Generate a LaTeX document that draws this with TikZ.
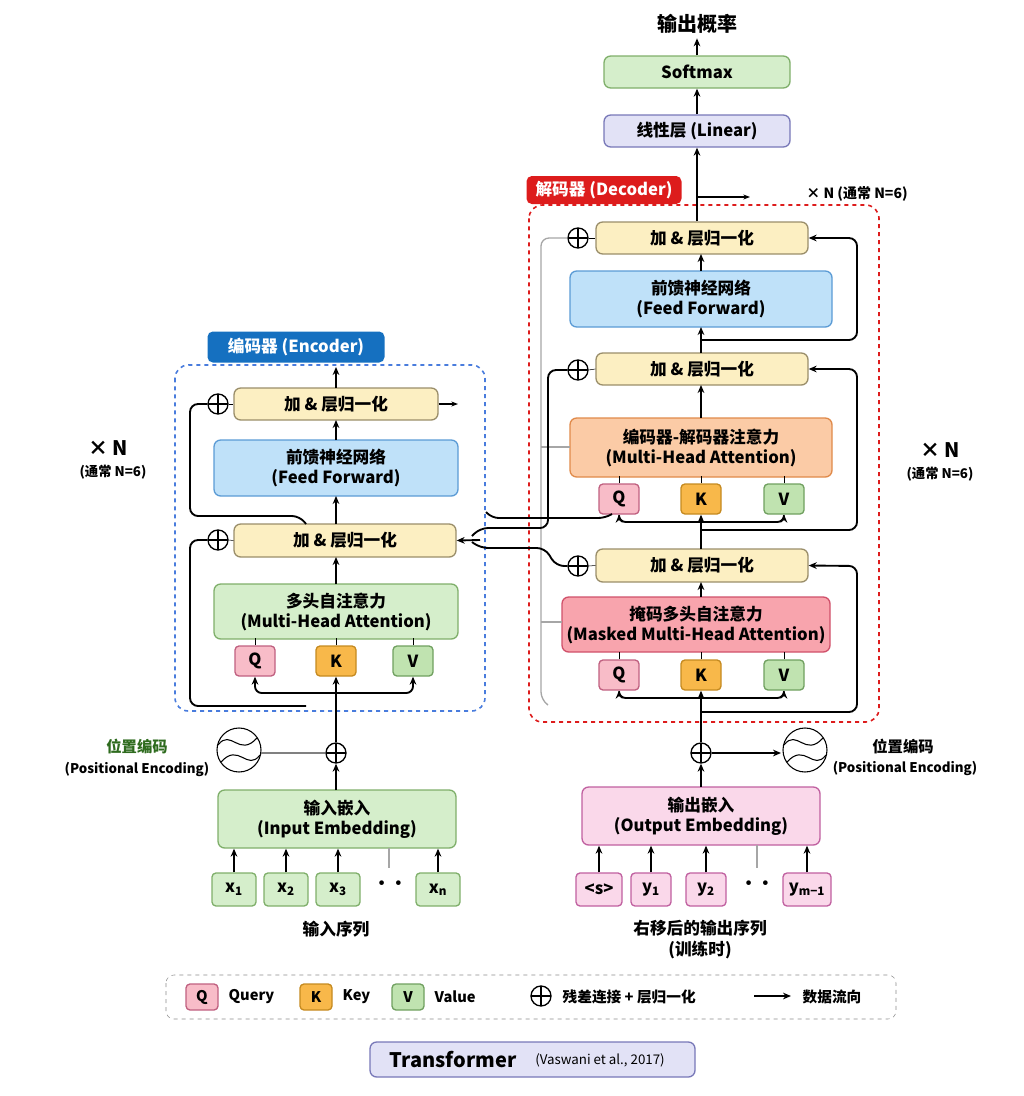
\documentclass[tikz,border=0pt]{standalone}
\usepackage{fontspec}
\setmainfont{Noto Sans CJK SC}
\usetikzlibrary{arrows.meta,calc}
\definecolor{ynf}{HTML}{FCEFC2}\definecolor{ynd}{HTML}{9A8E6A}
\definecolor{blf}{HTML}{BFE1F9}\definecolor{bld}{HTML}{5B9BD5}
\definecolor{grf}{HTML}{D5EECB}\definecolor{grd}{HTML}{7FAF6A}
\definecolor{orf}{HTML}{FBCBA6}\definecolor{ord}{HTML}{E08A4A}
\definecolor{rdf}{HTML}{F8A4AD}\definecolor{rdd}{HTML}{D0506A}
\definecolor{qf}{HTML}{F8BCC8}\definecolor{qd}{HTML}{C06080}
\definecolor{kf}{HTML}{F8B84A}\definecolor{kd}{HTML}{C58A20}
\definecolor{vf}{HTML}{C0E3B0}\definecolor{vd}{HTML}{70A060}
\definecolor{pkf}{HTML}{FAD8EA}\definecolor{pkd}{HTML}{C060A0}
\definecolor{lvf}{HTML}{E2E2F6}\definecolor{lvd}{HTML}{7878B8}
\definecolor{encb}{HTML}{1570C0}\definecolor{decr}{HTML}{DD1C1C}
\definecolor{pegr}{HTML}{2E6B1E}
\newcommand\bx[7]{\node[#6, minimum width={(#4-#2)*0.75pt}, minimum height={(#5-#3)*0.75pt}] (#1) at ({(#2+#4)/2},{(#3+#5)/2}) {#7};}
\newcommand\pe[1]{\draw[thick] (#1) circle (22);
 \draw[thick] ($(#1)+(-21,-5)$) .. controls ($(#1)+(-8,-22)$) and ($(#1)+(0,8)$) .. ($(#1)+(18,-12)$);
 \draw[thick] ($(#1)+(-18,12)$) .. controls ($(#1)+(0,-8)$) and ($(#1)+(8,22)$) .. ($(#1)+(21,5)$);}
\begin{document}
\begin{tikzpicture}[x=0.75pt,y=-0.75pt,
 font=\bfseries\fontsize{12.5}{15}\selectfont,
 base/.style={draw, rounded corners=5pt, line width=1pt, inner sep=0pt, align=center},
 an/.style={base, fill=ynf, draw=ynd},
 ff/.style={base, fill=blf, draw=bld},
 mha/.style={base, fill=grf, draw=grd},
 eda/.style={base, fill=orf, draw=ord},
 msk/.style={base, fill=rdf, draw=rdd},
 q/.style={base, fill=qf, draw=qd, rounded corners=3pt},
 k/.style={base, fill=kf, draw=kd, rounded corners=3pt},
 v/.style={base, fill=vf, draw=vd, rounded corners=3pt},
 emb/.style={base, fill=grf, draw=grd},
 oemb/.style={base, fill=pkf, draw=pkd},
 tok/.style={base, fill=grf, draw=grd, rounded corners=3pt},
 otok/.style={base, fill=pkf, draw=pkd, rounded corners=3pt},
 lin/.style={base, fill=lvf, draw=lvd},
 op/.style={circle, draw, line width=1pt, minimum size=15pt, inner sep=0pt,
   path picture={\draw[line width=1pt] (path picture bounding box.north)--(path picture bounding box.south) (path picture bounding box.west)--(path picture bounding box.east);}},
 arr/.style={line width=1.4pt, -{Stealth[length=6pt,width=5pt]}},
 ln/.style={line width=1.4pt},
 gl/.style={line width=1pt, draw=black!35},
 small/.style={font=\bfseries\fontsize{10}{12}\selectfont}]
\useasboundingbox (0,0) rectangle (1024,1096);
% ===== top
\node[font=\bfseries\fontsize{15}{18}\selectfont] (prob) at (697,24) {输出概率};
\bx{sm}{604}{56}{790}{88}{mha}{Softmax}
\bx{lin}{604}{115}{790}{147}{lin}{线性层 (Linear)}
\draw[arr] (sm.north) -- (prob.south);
\draw[arr] (lin.north) -- (sm.south);
% ===== decoder frame
\draw[decr, dashed, line width=1.2pt, rounded corners=10pt] (529,205) rectangle (879,722);
\node[fill=decr, text=white, rounded corners=4pt, minimum width=155*0.75pt, minimum height=28*0.75pt, inner sep=0pt] (declab) at (604,190) {解码器 (Decoder)};
\node[font=\bfseries\fontsize{10.5}{12}\selectfont] (xnd) at (857,194) {× N (通常 N=6)};
\coordinate (dtap) at (697,197);
\draw[ln, -{Stealth[length=5pt]}] (dtap) -- (750,197);
\bx{an3}{596}{222}{808}{254}{an}{加 \& 层归一化}
\bx{dff}{570}{271}{832}{327}{ff}{前馈神经网络\\(Feed Forward)}
\bx{an2}{596}{353}{808}{385}{an}{加 \& 层归一化}
\bx{eda}{570}{418}{832}{477}{eda}{编码器-解码器注意力\\(Multi-Head Attention)}
\bx{q2}{599}{484}{639}{514}{q}{Q}
\bx{k2}{681}{484}{721}{514}{k}{K}
\bx{v2}{764}{484}{804}{514}{v}{V}
\bx{an1}{596}{549}{808}{582}{an}{加 \& 层归一化}
\bx{msk}{562}{597}{830}{652}{msk}{掩码多头自注意力\\(Masked Multi-Head Attention)}
\bx{q1}{599}{660}{639}{690}{q}{Q}
\bx{k1}{681}{660}{721}{690}{k}{K}
\bx{v1}{764}{660}{804}{690}{v}{V}
\node[op] (dp3) at (578,238) {};
\node[op] (dp2) at (578,370) {};
\node[op] (dp1) at (578,566) {};
\draw (dp3.east) -- (an3.west); \draw (dp2.east) -- (an2.west); \draw (dp1.east) -- (an1.west);
\draw[arr] (an3.north -| lin.south) -- (lin.south);
\draw[arr] (701,271) -- (701,254);
\draw[arr] (701,353) -- (701,327);
\draw[arr] (701,418) -- (701,385);
\draw[arr] (701,597) -- (701,582);
\draw (q2.north) -- ++(0,-7); \draw (k2.north) -- ++(0,-7); \draw (v2.north) -- ++(0,-7);
\draw (q1.north) -- ++(0,-7); \draw (k1.north) -- ++(0,-7); \draw (v1.north) -- ++(0,-7);
% residuals right
\draw[arr, rounded corners=6pt] (701,340) -- (857,340) -- (857,238) -- (an3.east);
\draw[arr, rounded corners=6pt] (701,530) -- (857,530) -- (857,369) -- (an2.east);
\draw[arr, rounded corners=6pt] (701,712) -- (857,712) -- (857,566) -- (an1.east);
% decoder attention inputs
\draw[arr] (701,549) -- (k2.south);
\draw[arr, rounded corners=5pt] (701,522) -| (v2.south);
\draw[arr, rounded corners=5pt] (701,522) -| (q2.south);
% gray lines
\draw[gl, rounded corners=6pt] (dp3.west) -- (541,238) -- (541,700) -- (548,705);
\draw[gl] (541,447) -- (570,447);
\draw[gl] (541,622) -- (562,622);
% ===== decoder bottom
\node[op] (dplus) at (701,753) {};
\draw[arr] (dplus.north) -- (k1.south);
\draw[arr, rounded corners=5pt] (701,698) -| (q1.south);
\draw[arr, rounded corners=5pt] (701,698) -| (v1.south);
\coordinate (dpe) at (805,750);
\pe{dpe}
\draw[arr] (dplus.east) -- (781,753);
\node[font=\bfseries\fontsize{11.5}{13}\selectfont] at (903,747) {位置编码};
\node[small] at (905,768) {(Positional Encoding)};
\bx{oemb}{582}{787}{820}{845}{oemb}{输出嵌入\\(Output Embedding)}
\draw[arr] (701,787) -- (dplus.south);
\bx{s0}{576}{873}{622}{906}{otok}{<s>}
\bx{y1}{631}{873}{671}{906}{otok}{y\textsubscript{1}}
\bx{y2}{686}{873}{726}{906}{otok}{y\textsubscript{2}}
\node (ydots) at (757,885) {··};
\bx{ym}{783}{873}{831}{906}{otok}{y\textsubscript{m−1}}
\foreach \t in {s0,y1,y2,ym} \draw[arr] (\t.north) -- (\t.north |- oemb.south);
\draw[gl] (757,845) -- (757,868);
\node at (700,928) {右移后的输出序列};
\node at (700,950) {(训练时)};
% ===== encoder
\draw[bld!80!blue, dashed, line width=1.2pt, rounded corners=10pt] (175,365) rectangle (485,711);
\node[fill=encb, text=white, rounded corners=4pt, minimum width=177*0.75pt, minimum height=31*0.75pt, inner sep=0pt] (enclab) at (296,347) {编码器 (Encoder)};
\bx{ean2}{234}{388}{438}{420}{an}{加 \& 层归一化}
\bx{eff}{214}{440}{458}{496}{ff}{前馈神经网络\\(Feed Forward)}
\bx{ean1}{234}{524}{456}{557}{an}{加 \& 层归一化}
\bx{emha}{214}{584}{458}{639}{mha}{多头自注意力\\(Multi-Head Attention)}
\bx{eq}{235}{646}{275}{676}{q}{Q}
\bx{ek}{316}{646}{356}{676}{k}{K}
\bx{ev}{393}{646}{433}{676}{v}{V}
\draw (eq.north) -- ++(0,-7); \draw (ek.north) -- ++(0,-7); \draw (ev.north) -- ++(0,-7);
\node[op] (ep2) at (218,404) {};
\node[op] (ep1) at (218,540) {};
\draw (ep2.east) -- (ean2.west); \draw (ep1.east) -- (ean1.west);
\draw[arr] (336,584) -- (336,557);
\draw[arr] (336,524) -- (336,496);
\draw[arr] (336,440) -- (336,420);
\draw[arr] (336,388) -- (336,367);
\draw[ln, -{Stealth[length=5pt]}] (ean2.east) -- (458,404);
\draw[ln, rounded corners=6pt] (306,524) -- (300,516) -- (190,516) -- (190,404) -- (ep2.west);
\draw[ln, rounded corners=6pt] (306,706) -- (190,706) -- (190,540) -- (ep1.west);
\node[op] (eplus) at (336,753) {};
\draw[arr] (eplus.north) -- (ek.south);
\draw[arr, rounded corners=5pt] (336,693) -| (eq.south);
\draw[arr, rounded corners=5pt] (336,693) -| (ev.south);
\coordinate (epe) at (239,750);
\pe{epe}
\draw[line width=0.8pt, draw=black!50] (261,753) -- (eplus.west);
\node[font=\bfseries\fontsize{11.5}{13}\selectfont, text=pegr] at (137,747) {位置编码};
\node[small] at (137,769) {(Positional Encoding)};
\node[font=\bfseries\fontsize{15}{18}\selectfont] at (108,448) {× N};
\node[small] at (113,472) {(通常 N=6)};
\node[font=\bfseries\fontsize{15}{18}\selectfont] at (940,450) {× N};
\node[small] at (940,474) {(通常 N=6)};
\bx{iemb}{218}{790}{456}{848}{emb}{输入嵌入\\(Input Embedding)}
\draw[arr] (336,790) -- (eplus.south);
\bx{x1}{212}{873}{256}{906}{tok}{x\textsubscript{1}}
\bx{x2}{264}{873}{308}{906}{tok}{x\textsubscript{2}}
\bx{x3}{316}{873}{360}{906}{tok}{x\textsubscript{3}}
\node (xdots) at (390,885) {··};
\bx{xn}{416}{873}{460}{906}{tok}{x\textsubscript{n}}
\foreach \t in {x1,x2,x3,xn} \draw[arr] (\t.north) -- (\t.north |- iemb.south);
\draw[gl] (389,848) -- (389,868);
\node at (336,929) {输入序列};
% ===== encoder -> decoder wiring
\draw[ln, rounded corners=5pt] (486,512) -- (492,518) -- (605,518) -- (612,514);
\draw[ln, rounded corners=6pt] (dp2.west) -- (548,370) -- (548,528) -- (480,528) -- (472,536);
\draw[ln, rounded corners=6pt] (dp1.west) -- (556,566) -- (545,548) -- (480,548) -- (472,542);
\draw[arr] (480,540) -- (ean1.east);
% ===== legend
\draw[black!45, dashed, rounded corners=6pt] (166,975) rectangle (896,1019);
\begin{scope}[font=\bfseries\fontsize{11}{13}\selectfont]
\bx{lq}{186}{984}{218}{1010}{q}{Q}
\node[anchor=west] at (224,997) {Query};
\bx{lk}{300}{984}{332}{1010}{k}{K}
\node[anchor=west] at (338,997) {Key};
\bx{lv}{392}{984}{424}{1010}{v}{V}
\node[anchor=west] at (430,997) {Value};
\node[op] (lp) at (541,996) {};
\node[anchor=west] at (558,997) {残差连接 + 层归一化};
\coordinate (la) at (754,996); \coordinate (lb) at (791,996);
\draw[arr] (la) -- (lb);
\node[anchor=west] at (798,997) {数据流向};
\end{scope}
% ===== title
\draw[lvd, fill=lvf, rounded corners=5pt, line width=1pt] (370,1042) rectangle (695,1077);
\node[font=\bfseries\fontsize{15}{18}\selectfont] at (453,1059) {Transformer};
\node[font=\fontsize{10}{12}\selectfont] at (600,1060) {(Vaswani et al., 2017)};
\end{tikzpicture}
\end{document}
